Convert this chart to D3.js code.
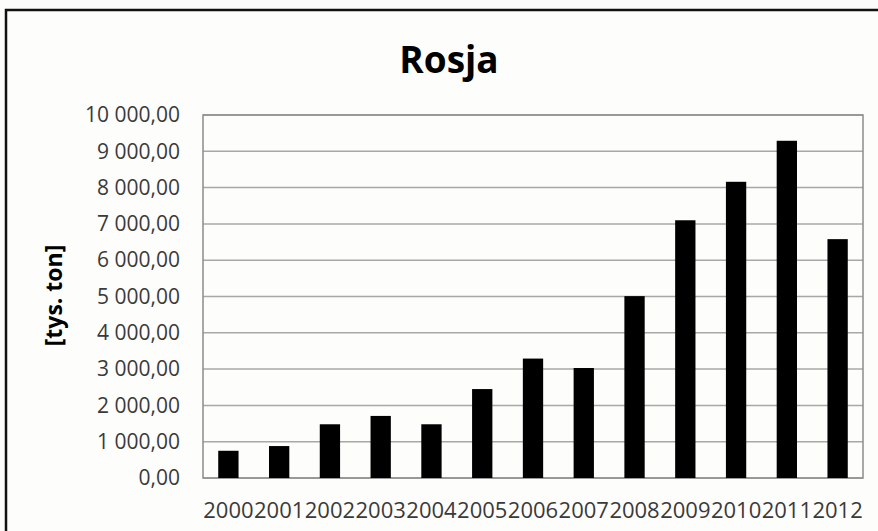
<!DOCTYPE html>
<html><head><meta charset="utf-8">
<script src="https://cdn.jsdelivr.net/npm/d3@7"></script>
<style>html,body{margin:0;padding:0;background:#fcfcfa;overflow:hidden}</style>
</head><body>
<svg id="c" width="878" height="531"></svg>
<script>
const years = ["2000","2001","2002","2003","2004","2005","2006","2007","2008","2009","2010","2011","2012"];
const values = [750, 880, 1480, 1710, 1480, 2450, 3290, 3030, 5010, 7100, 8160, 9290, 6580];
const yTicks = [0,1000,2000,3000,4000,5000,6000,7000,8000,9000,10000];
const title = "Rosja";
const yLabel = "[tys. ton]";

const svg = d3.select("#c");
const font = "'Open Sans', sans-serif";
svg.append("rect").attr("x",0).attr("y",0).attr("width",878).attr("height",531).attr("fill","#fcfcfa");
svg.append("rect").attr("x",6).attr("y",10).attr("width",900).attr("height",600)
  .attr("fill","#fdfdfb").attr("stroke","#111").attr("stroke-width",2.5);

const m = {l:203, r:863, t:115, b:478};
const x = d3.scaleBand().domain(years).range([m.l, m.r]).paddingInner(0.6).paddingOuter(0.3);
const y = d3.scaleLinear().domain([0,10000]).range([m.b, m.t]);

const fmt = v => {
  const s = d3.format(",.2f")(v);
  return s.replace(/,/g," ").replace(".",",");
};

// gridlines
svg.append("g").selectAll("line").data(yTicks).join("line")
  .attr("x1",m.l).attr("x2",m.r).attr("y1",d=>y(d)).attr("y2",d=>y(d))
  .attr("stroke","#a8a8a8").attr("stroke-width",1.5);

// plot frame
svg.append("rect").attr("x",m.l).attr("y",m.t).attr("width",m.r-m.l).attr("height",m.b-m.t)
  .attr("fill","none").attr("stroke","#8c8c8c").attr("stroke-width",1.5);

// bars
svg.append("g").selectAll("rect").data(values).join("rect")
  .attr("x",(d,i)=>x(years[i])).attr("width",x.bandwidth())
  .attr("y",d=>y(d)).attr("height",d=>y(0)-y(d)).attr("fill","#000");

// y axis labels
const ya = d3.axisLeft(y).tickValues(yTicks).tickFormat(fmt).tickSize(0).tickPadding(23);
const yg = svg.append("g").attr("transform",`translate(${m.l},0)`).call(ya);
yg.select(".domain").remove();
yg.selectAll("text").attr("font-family",font).attr("font-size",21).attr("fill","#3a3a3a");

// x axis labels
const xa = d3.axisBottom(x).tickSize(0).tickPadding(24);
const xg = svg.append("g").attr("transform",`translate(0,${m.b})`).call(xa);
xg.select(".domain").remove();
xg.selectAll("text").attr("font-family",font).attr("font-size",22).attr("fill","#3a3a3a");

// title
svg.append("text").attr("x",449).attr("y",73).attr("text-anchor","middle")
  .attr("font-family",font).attr("font-weight","bold").attr("font-size",37).attr("fill","#000").text(title);

// y label
svg.append("text").attr("transform",`translate(62,${(m.t+m.b)/2 - 1}) rotate(-90)`)
  .attr("text-anchor","middle").attr("font-family",font).attr("font-weight","bold")
  .attr("font-size",23).attr("fill","#000").text(yLabel);
</script>
</body></html>
